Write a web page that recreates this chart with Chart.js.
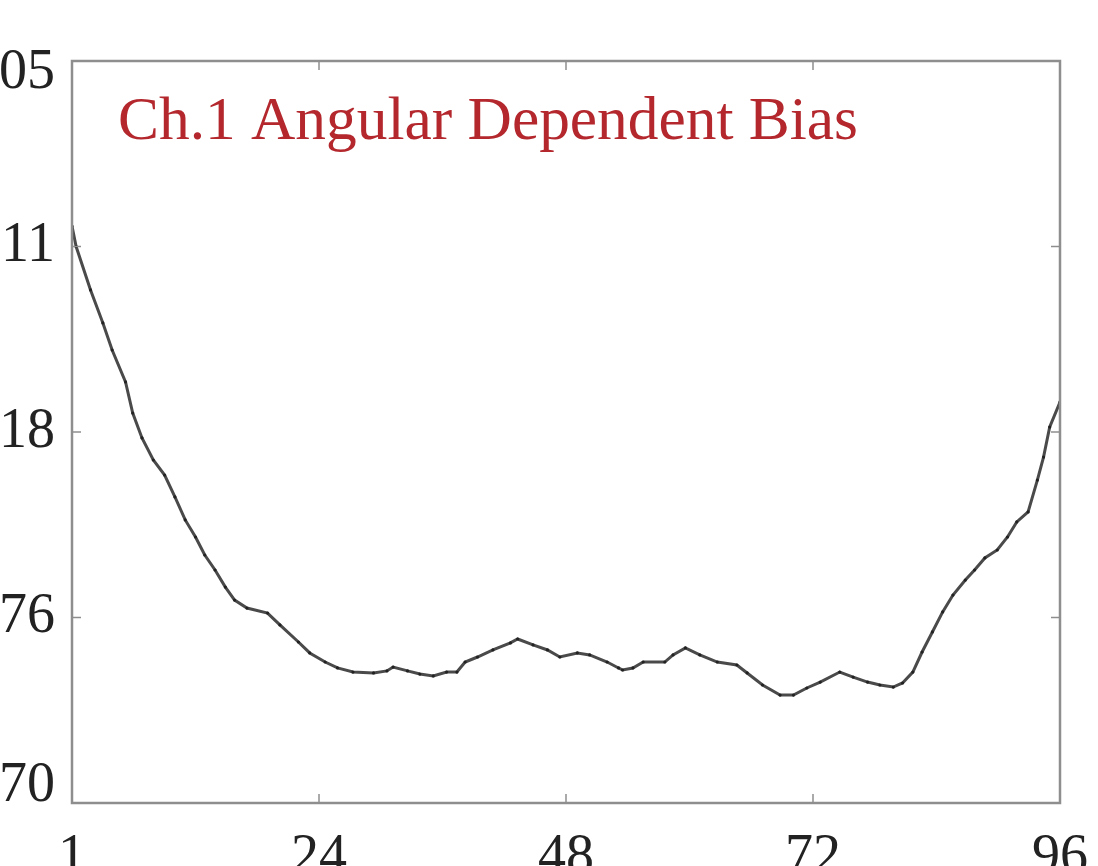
<!DOCTYPE html>
<html><head><meta charset="utf-8">
<script src="https://cdn.jsdelivr.net/npm/chart.js@4/dist/chart.umd.min.js"></script>
<style>html,body{margin:0;padding:0;background:#fff;overflow:hidden}#wrap{width:1098px;height:866px;position:relative}</style>
</head><body><div id="wrap"><canvas id="c" width="1098" height="866"></canvas></div>
<script>
const titleText = "Ch.1 Angular Dependent Bias";
const xTickValues = [0, 24, 48, 72, 96];
const xTickLabels = ["1", "24", "48", "72", "96"];
const yTickValues = [0, 1, 2, 3, 4];
const yTickLabels = ["70", "76", "18", "11", "05"];
const angleX = [0.0,0.4,1.8,3.0,3.9,5.2,5.9,6.8,7.9,9.0,
  10.0,11.0,12.0,12.9,13.9,14.9,15.8,17.0,19.0,20.2,
  22.0,23.1,24.6,25.8,27.3,29.3,30.6,31.2,32.6,33.8,
  35.1,36.4,37.4,38.2,39.4,40.9,42.6,43.3,44.8,46.2,
  47.4,49.1,50.3,52.0,53.1,53.5,54.5,55.5,57.6,58.4,
  59.6,61.0,62.7,64.6,65.6,67.1,68.8,70.1,71.4,72.7,
  74.6,75.9,77.3,78.5,79.8,80.7,81.7,82.6,83.6,84.6,
  85.6,86.8,87.7,88.7,89.9,90.9,91.8,92.9,93.8,94.4,
  95.0,96.0];
const biasY = [3.11,3.00,2.766,2.588,2.442,2.270,2.102,1.968,1.849,1.768,
  1.650,1.526,1.434,1.337,1.256,1.164,1.094,1.051,1.024,0.960,
  0.868,0.809,0.760,0.728,0.706,0.701,0.712,0.733,0.712,0.695,
  0.685,0.706,0.706,0.760,0.787,0.825,0.863,0.884,0.852,0.825,
  0.787,0.809,0.798,0.760,0.728,0.717,0.728,0.760,0.760,0.798,
  0.836,0.798,0.760,0.744,0.701,0.636,0.582,0.582,0.620,0.652,
  0.706,0.679,0.652,0.636,0.625,0.647,0.706,0.814,0.922,1.030,
  1.121,1.202,1.256,1.321,1.364,1.434,1.515,1.569,1.741,1.865,
  2.027,2.162];

const serif = '"Liberation Serif", "Times New Roman", serif';
const axisColor = '#8e8e8e';

const frameAndTicks = {
  id: 'frameAndTicks',
  afterDatasetsDraw(chart) {
    const {ctx, chartArea: a, scales: {x, y}} = chart;
    ctx.save();
    ctx.strokeStyle = axisColor;
    ctx.lineWidth = 2.5;
    ctx.strokeRect(a.left, a.top, a.right - a.left, a.bottom - a.top);
    ctx.lineWidth = 1.5;
    const L = 9;
    ctx.beginPath();
    xTickValues.forEach(v => {
      const p = x.getPixelForValue(v);
      ctx.moveTo(p, a.bottom); ctx.lineTo(p, a.bottom - L);
      ctx.moveTo(p, a.top); ctx.lineTo(p, a.top + L);
    });
    yTickValues.forEach(v => {
      const p = y.getPixelForValue(v);
      ctx.moveTo(a.left, p); ctx.lineTo(a.left + L, p);
      ctx.moveTo(a.right, p); ctx.lineTo(a.right - L, p);
    });
    ctx.stroke();
    ctx.fillStyle = '#b3272d';
    ctx.font = '61.4px ' + serif;
    ctx.textAlign = 'left';
    ctx.textBaseline = 'alphabetic';
    ctx.fillText(titleText, 118, 139);
    ctx.restore();
  }
};

const edgeLabelShift = {
  id: 'edgeLabelShift',
  beforeDraw(chart) {
    const s = chart.scales.y;
    const items = s.getLabelItems();
    items.forEach(it => {
      if (it._shifted || !it.options || !it.options.translation) return;
      if (it.label === yTickLabels[yTickLabels.length - 1]) it.options.translation[1] += 12;
      if (it.label === yTickLabels[0]) it.options.translation[1] -= 17;
      it._shifted = true;
    });
  }
};

new Chart(document.getElementById('c'), {
  type: 'scatter',
  data: {
    datasets: [{
      data: angleX.map((v, i) => ({x: v, y: biasY[i]})),
      showLine: true,
      borderColor: '#4a4a4a',
      borderWidth: 3,
      pointRadius: 1.6,
      pointBackgroundColor: '#222',
      pointBorderWidth: 0,
      tension: 0
    }]
  },
  options: {
    responsive: false,
    devicePixelRatio: 1,
    animation: false,
    layout: {padding: {top: 61, right: 38, left: 0, bottom: 0}},
    plugins: {legend: {display: false}, tooltip: {enabled: false}, title: {display: false}},
    scales: {
      x: {
        type: 'linear', position: 'bottom', min: 0, max: 96,
        grid: {display: false, drawTicks: false},
        border: {display: false},
        afterBuildTicks: s => { s.ticks = xTickValues.map(v => ({value: v})); },
        afterFit: s => { s.height = 63; s.paddingRight = 0; s.paddingLeft = 0; },
        ticks: {
          autoSkip: false, maxRotation: 0, padding: 22, color: '#222',
          font: {family: serif, size: 56},
          callback: (v) => xTickLabels[xTickValues.indexOf(v)]
        }
      },
      y: {
        type: 'linear', position: 'left', min: 0, max: 4,
        grid: {display: false, drawTicks: false},
        border: {display: false},
        afterBuildTicks: s => { s.ticks = yTickValues.map(v => ({value: v})); },
        afterFit: s => { s.width = 72; s.paddingTop = 0; s.paddingBottom = 0; },
        ticks: {
          autoSkip: false, padding: 17, color: '#222',
          font: {family: serif, size: 56},
          callback: (v) => yTickLabels[yTickValues.indexOf(v)]
        }
      }
    }
  },
  plugins: [edgeLabelShift, frameAndTicks]
});
</script></body></html>
